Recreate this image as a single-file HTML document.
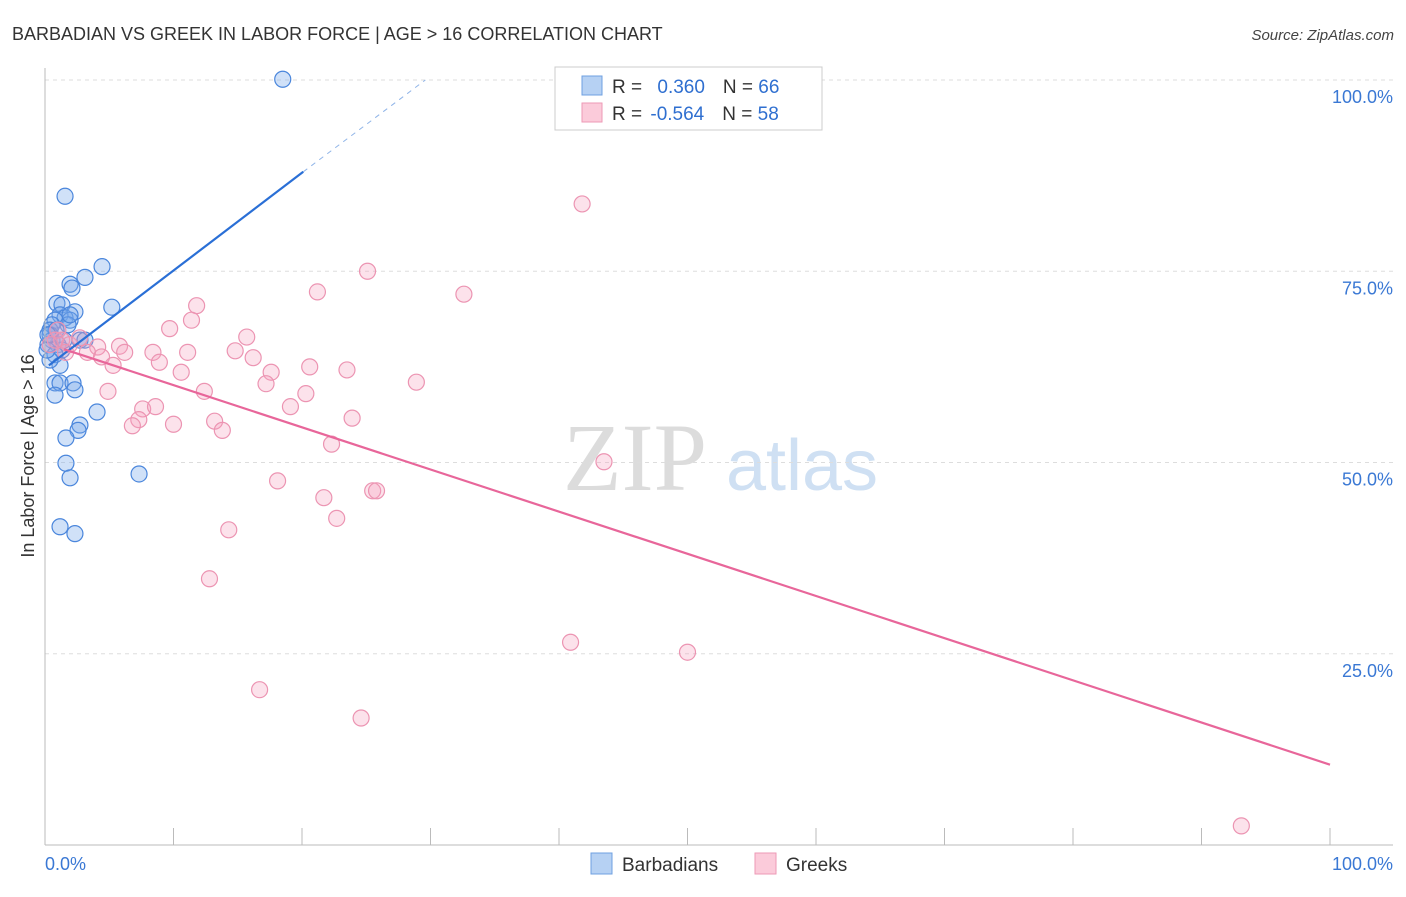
<!DOCTYPE html>
<html><head><meta charset="utf-8"><style>
body{margin:0;background:#fff;font-family:"Liberation Sans",sans-serif}
</style></head><body>
<svg id="c" width="1406" height="892" xmlns="http://www.w3.org/2000/svg" style="font-family:'Liberation Sans',sans-serif">
<text x="12" y="40" font-size="18" fill="#333">BARBADIAN VS GREEK IN LABOR FORCE | AGE &gt; 16 CORRELATION CHART</text>
<text x="1394" y="40" font-size="15" fill="#444" font-style="italic" text-anchor="end">Source: ZipAtlas.com</text>
<text x="635" y="490" font-size="96" fill="#dcdcdc" font-family="Liberation Serif,serif" text-anchor="middle">ZIP</text>
<text x="802" y="490" font-size="72" fill="#cfe0f3" text-anchor="middle">atlas</text>
<g id="grid"></g><g id="pts"></g><g id="lines"></g>
<line x1="45" y1="68" x2="45" y2="845" stroke="#bbb"/>
<line x1="45" y1="845" x2="1393" y2="845" stroke="#bbb"/>
<text x="45" y="870" font-size="18" fill="#3a78d4">0.0%</text>
<text x="1393" y="870" font-size="18" fill="#3a78d4" text-anchor="end">100.0%</text>
<text transform="translate(34,456) rotate(-90)" font-size="18" fill="#333" text-anchor="middle">In Labor Force | Age &gt; 16</text>
<g>
<rect x="555" y="67" width="267" height="63" fill="#fff" stroke="#ccc"/>
<rect x="582" y="76" width="20" height="19" fill="#b6d1f3" stroke="#6fa0e0"/>
<rect x="582" y="103" width="20" height="19" fill="#fbcbda" stroke="#ee9ab6"/>
<text x="612" y="93" font-size="19" fill="#333">R = <tspan fill="#2f6fd0" dx="10">0.360</tspan><tspan dx="18" fill="#333">N = </tspan><tspan fill="#2f6fd0">66</tspan></text>
<text x="612" y="120" font-size="19" fill="#333">R = <tspan fill="#2f6fd0" dx="3">-0.564</tspan><tspan dx="18" fill="#333">N = </tspan><tspan fill="#2f6fd0">58</tspan></text>
</g>
<rect x="591" y="853" width="21" height="21" fill="#b6d1f3" stroke="#6fa0e0"/>
<text x="622" y="871" font-size="19" fill="#333">Barbadians</text>
<rect x="755" y="853" width="21" height="21" fill="#fbcbda" stroke="#ee9ab6"/>
<text x="786" y="871" font-size="19" fill="#333">Greeks</text>
</svg>
<script>
const yTicks=[25,50,75,100];
const yTickLabels=["25.0%","50.0%","75.0%","100.0%"];
const xTicks=[0,10,20,30,40,50,60,70,80,90,100];
const blueX=[18.5,1.56,4.44,3.11,1.95,2.1,5.2,0.93,1.32,2.33,1.17,1.56,1.95,0.78,0.54,0.39,1.79,2.72,0.54,1.01,1.32,0.23,0.78,1.17,0.39,0.78,1.17,2.18,2.33,0.78,4.05,2.72,2.57,1.63,1.63,1.95,7.32,1.17,2.33,0.39,0.86,0.16,1.48,3.11,1.95,0.23];
const blueY=[100.1,84.8,75.6,74.2,73.3,72.8,70.3,70.8,70.6,69.7,69.3,68.9,68.6,68.6,68.0,67.3,68.0,66.0,66.0,65.4,64.7,65.4,64.1,62.7,63.4,60.4,60.4,60.4,59.5,58.8,56.6,54.9,54.2,53.2,49.9,48.0,48.5,41.6,40.7,66.7,67.3,64.7,66.0,66.0,69.3,66.7];
const pinkX=[41.8,25.1,32.6,21.2,11.8,11.4,9.7,15.7,5.8,4.1,1.3,1.9,6.2,8.4,11.1,14.8,3.3,4.4,16.2,5.3,8.9,10.6,17.6,20.6,23.5,17.2,28.9,4.9,12.4,20.3,7.6,8.6,19.1,23.9,7.3,6.8,10.0,13.2,13.8,22.3,43.5,18.1,25.5,25.8,21.7,22.7,14.3,12.8,40.9,50.0,16.7,24.6,93.1,0.8,1.6,2.7,0.4,1.0];
const pinkY=[83.8,75.0,72.0,72.3,70.5,68.6,67.5,66.4,65.2,65.1,66.0,65.4,64.4,64.4,64.4,64.6,64.4,63.8,63.7,62.7,63.1,61.8,61.8,62.5,62.1,60.3,60.5,59.3,59.3,59.0,57.0,57.3,57.3,55.8,55.6,54.8,55.0,55.4,54.2,52.4,50.1,47.6,46.3,46.3,45.4,42.7,41.2,34.8,26.5,25.2,20.3,16.6,2.5,66.0,64.4,66.3,65.4,67.3];
const blueTrend=[0.3,62.7,20.1,88.0,29.6,100];
const pinkTrend=[1.5,64.8,100,10.5];
const NS="http://www.w3.org/2000/svg";
const sx=v=>45+v*12.85, sy=v=>845-v*7.65;
function mk(t,a,p){const e=document.createElementNS(NS,t);for(const k in a)e.setAttribute(k,a[k]);p.appendChild(e);return e;}
const g=document.getElementById('grid');
yTicks.forEach((t,i)=>{
 const l=mk('line',{x1:45,x2:1393,y1:sy(t),y2:sy(t),stroke:'#ddd','stroke-dasharray':'4,4'},g);
 
 
 const tx=mk('text',{x:1393,y:sy(t)+23,'font-size':18,fill:'#3a78d4','text-anchor':'end'},g);
 tx.textContent=yTickLabels[i];
 
 
});
xTicks.forEach(t=>{
 const l=mk('line',{x1:sx(t),x2:sx(t),y1:828,y2:845,stroke:'#bbb'},g);
 
 
});
const p=document.getElementById('pts');
blueX.forEach((x,i)=>{
 const c=mk('circle',{cx:sx(x),cy:sy(blueY[i]),r:8,fill:'rgba(120,170,235,0.35)',stroke:'#4a86dc','stroke-width':1.2},p);
 
 
});
pinkX.forEach((x,i)=>{
 const c=mk('circle',{cx:sx(x),cy:sy(pinkY[i]),r:8,fill:'rgba(245,160,190,0.3)',stroke:'#ec94b2','stroke-width':1.2},p);
 
 
});
const L=document.getElementById('lines');
const b1=mk('line',{x1:sx(blueTrend[0]),y1:sy(blueTrend[1]),x2:sx(blueTrend[2]),y2:sy(blueTrend[3]),stroke:'#2a6fd6','stroke-width':2.2},L);


const b2=mk('line',{x1:sx(blueTrend[2]),y1:sy(blueTrend[3]),x2:sx(blueTrend[4]),y2:sy(blueTrend[5]),stroke:'#8fb4e8','stroke-width':1,'stroke-dasharray':'5,5'},L);


const pl=mk('line',{x1:sx(pinkTrend[0]),y1:sy(pinkTrend[1]),x2:sx(pinkTrend[2]),y2:sy(pinkTrend[3]),stroke:'#e8669a','stroke-width':2.2},L);


</script>
</body></html>
